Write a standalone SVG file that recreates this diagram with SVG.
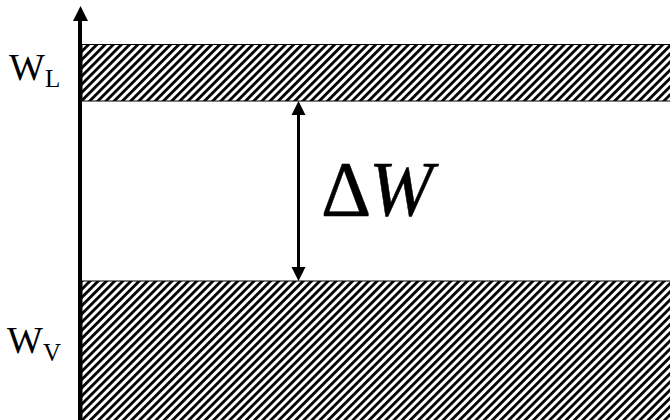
<svg xmlns="http://www.w3.org/2000/svg" width="670" height="420" viewBox="0 0 670 420">
<defs>
<pattern id="hatch" patternUnits="userSpaceOnUse" width="5.8" height="5.8" patternTransform="rotate(45)">
<rect width="5.8" height="5.8" fill="#fff"/>
<rect x="0" y="0" width="2.8" height="5.8" fill="#000"/>
</pattern>
<style>
.band{fill:url(#hatch);stroke:#000;stroke-width:1}
.lbl{font-family:"Liberation Serif","DejaVu Serif",serif;fill:#000}
</style>
</defs>
<g id="band-top"><rect class="band" x="82" y="44.5" width="592" height="56.5"/></g>
<g id="band-bottom"><rect class="band" x="82" y="281" width="592" height="145"/></g>
<g id="connectors">
<line x1="80" y1="420" x2="80" y2="18" stroke="#000" stroke-width="4"/>
<path d="M80.5,6 L73,21 L88,21 Z" fill="#000"/>
<line x1="298.5" y1="113" x2="298.5" y2="269" stroke="#000" stroke-width="3"/>
<path d="M298.5,101 L291.5,115 L305.5,115 Z M298.5,281 L291.5,267 L305.5,267 Z" fill="#000"/>
</g>
<g id="label-wl"><text class="lbl" x="9" y="80" font-size="38">W<tspan font-size="25" dy="7">L</tspan></text></g>
<g id="label-wv"><text class="lbl" x="7" y="353" font-size="38">W<tspan font-size="25" dy="8">V</tspan></text></g>
<g id="label-dw"><text class="lbl" x="321" y="215" font-size="78" stroke="#000" stroke-width="0.5">Δ</text><text class="lbl" x="369" y="215" font-size="78" font-style="italic" stroke="#000" stroke-width="0.5" textLength="64" lengthAdjust="spacingAndGlyphs">W</text></g>
</svg>
